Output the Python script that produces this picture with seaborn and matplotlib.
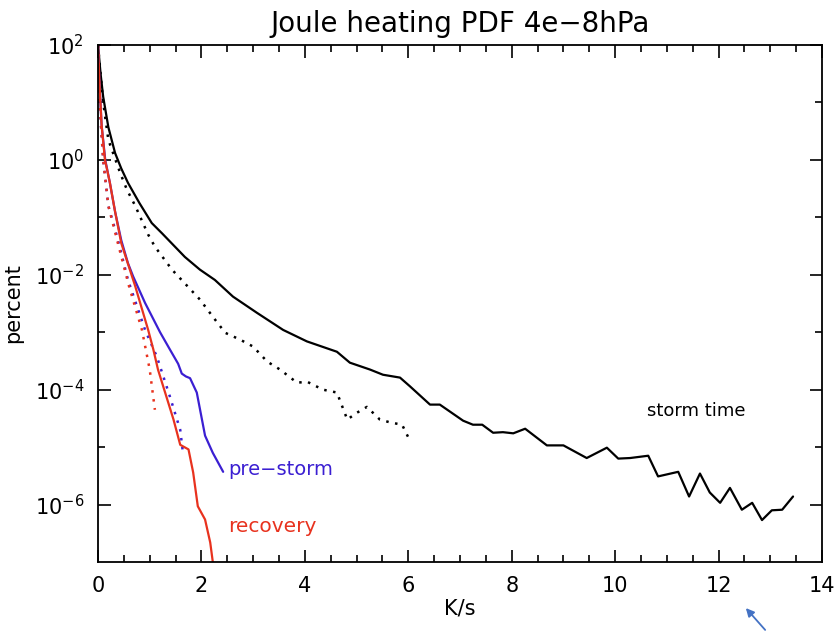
import numpy as np
import pandas as pd
import matplotlib
matplotlib.use("Agg")
import matplotlib.pyplot as plt
import seaborn as sns
from matplotlib.ticker import FixedLocator, NullFormatter

# values, y in percent (given as log10 exponents)
storm_x = [0, 0.05, 0.1, 0.2, 0.33, 0.45, 0.58, 0.8, 1.04, 1.24, 1.68, 1.97, 2.26,
           2.61, 3.07, 3.58, 4.04, 4.62, 4.87, 5.26, 5.51, 5.84, 6.03, 6.42, 6.61,
           7.06, 7.25, 7.43, 7.64, 7.83, 8.03, 8.26, 8.68, 9.0, 9.45, 9.84, 10.06,
           10.29, 10.64, 10.83, 11.22, 11.43, 11.64, 11.83, 12.03, 12.22, 12.45,
           12.65, 12.84, 13.03, 13.23, 13.44]
storm_lg = [2.0, 1.5, 1.1, 0.57, 0.12, -0.15, -0.4, -0.75, -1.1, -1.28, -1.69, -1.91,
            -2.09, -2.38, -2.66, -2.96, -3.16, -3.34, -3.53, -3.65, -3.74, -3.79,
            -3.94, -4.26, -4.26, -4.54, -4.61, -4.61, -4.75, -4.74, -4.76, -4.68,
            -4.97, -4.97, -5.19, -5.01, -5.2, -5.19, -5.15, -5.51, -5.43, -5.86,
            -5.46, -5.79, -5.97, -5.71, -6.09, -5.97, -6.27, -6.1, -6.09, -5.86]

storm_dot_x = [0, 0.1, 0.2, 0.43, 0.56, 0.72, 0.97, 1.1, 1.43, 1.97, 2.22, 2.46, 2.75,
               3.0, 3.27, 3.52, 3.85, 4.04, 4.35, 4.62, 4.82, 5.01, 5.2, 5.45, 5.65,
               5.88, 6.0]
storm_dot_lg = [2.0, 1.0, 0.35, -0.23, -0.52, -0.8, -1.3, -1.51, -1.91, -2.43, -2.73,
                -3.01, -3.13, -3.25, -3.51, -3.65, -3.88, -3.86, -4.0, -4.05, -4.52,
                -4.4, -4.3, -4.52, -4.57, -4.61, -4.83]

pre_x = [0, 0.03, 0.07, 0.14, 0.23, 0.33, 0.45, 0.58, 0.68, 0.91, 1.2, 1.39, 1.55,
         1.62, 1.7, 1.78, 1.91, 2.07, 2.22, 2.42]
pre_lg = [2.0, 1.3, 0.6, 0.0, -0.4, -0.9, -1.4, -1.8, -2.03, -2.49, -3.0, -3.3, -3.55,
          -3.72, -3.77, -3.8, -4.05, -4.8, -5.1, -5.43]

pre_dot_x = [0, 0.03, 0.1, 0.2, 0.37, 0.58, 0.91, 1.14, 1.39, 1.59, 1.64]
pre_dot_lg = [2.0, 1.0, 0.0, -0.8, -1.34, -2.09, -2.96, -3.43, -4.12, -4.7, -5.08]

rec_x = [0, 0.03, 0.07, 0.135, 0.23, 0.33, 0.45, 0.72, 0.97, 1.07, 1.16, 1.26, 1.46,
         1.59, 1.69, 1.75, 1.84, 1.93, 2.07, 2.17, 2.22]
rec_lg = [2.0, 1.3, 0.6, 0.0, -0.4, -0.9, -1.45, -2.2, -2.96, -3.3, -3.65, -3.94,
          -4.52, -4.96, -5.01, -5.04, -5.44, -6.03, -6.26, -6.66, -7.0]

rec_dot_x = [0, 0.03, 0.1, 0.2, 0.37, 0.6, 0.85, 1.0, 1.1]
rec_dot_lg = [2.0, 1.0, 0.0, -0.8, -1.4, -2.2, -2.96, -3.65, -4.35]

ytick_vals = [1e2, 1e0, 1e-2, 1e-4, 1e-6]
ytick_labels = [r'$10^{2}$', r'$10^{0}$', r'$10^{-2}$', r'$10^{-4}$', r'$10^{-6}$']
yminor_vals = [1e1, 1e-1, 1e-3, 1e-5]
xtick_vals = [0, 2, 4, 6, 8, 10, 12, 14]

BLUE = '#3b1fd2'
RED = '#e8321e'

sns.set_style("ticks")
plt.rcParams['font.family'] = ['DejaVu Sans']
plt.rcParams['text.color'] = 'black'
plt.rcParams['axes.labelcolor'] = 'black'

fig = plt.figure(figsize=(8.39, 6.32), dpi=100)
ax = fig.add_axes([98/839, 1-562/632, (822-98)/839, (562-45)/632])

series = [
    (storm_x, storm_lg, 'black', '-'),
    (storm_dot_x, storm_dot_lg, 'black', ':'),
    (pre_x, pre_lg, BLUE, '-'),
    (pre_dot_x, pre_dot_lg, BLUE, ':'),
    (rec_x, rec_lg, RED, '-'),
    (rec_dot_x, rec_dot_lg, RED, ':'),
]
for xs, lg, col, ls in series:
    d = pd.DataFrame({'x': xs, 'y': 10.0 ** np.array(lg)})
    line_kw = dict(lw=1.6) if ls == '-' else dict(lw=1.8, dashes=(1, 2.6))
    sns.lineplot(data=d, x='x', y='y', ax=ax, color=col, estimator=None,
                 sort=False, **line_kw)

ax.set_yscale('log')
ax.set_xlim(0, 14)
ax.set_ylim(1e-7, 1e2)

ax.set_xticks(xtick_vals)
ax.set_xticklabels([str(v) for v in xtick_vals])
ax.xaxis.set_minor_locator(FixedLocator(np.arange(0, 14.01, 0.5)))
ax.yaxis.set_major_locator(FixedLocator(ytick_vals))
ax.set_yticklabels(ytick_labels)
ax.yaxis.set_minor_locator(FixedLocator(yminor_vals))
ax.yaxis.set_minor_formatter(NullFormatter())

ax.tick_params(which='both', direction='in', top=True, right=True, width=1.2,
               colors='black', labelsize=15)
ax.tick_params(which='major', length=9, pad=10)
ax.tick_params(which='minor', length=5)
for s in ax.spines.values():
    s.set_linewidth(1.3)
    s.set_color('black')

ax.set_xlabel('K/s', fontsize=15, labelpad=2)
ax.set_ylabel('percent', fontsize=15, labelpad=8)
ax.set_title('Joule heating PDF 4e\u22128hPa', fontsize=20, pad=9)

ax.text(10.62, 10 ** -4.38, 'storm time', fontsize=13, color='black', va='center')
ax.text(2.52, 10 ** -5.39, 'pre\u2212storm', fontsize=14, color=BLUE, va='center')
ax.text(2.52, 10 ** -6.38, 'recovery', fontsize=14.5, color=RED, va='center')

ax.annotate('', xy=(744/839, 1-606/632), xytext=(767/839, 1-632/632),
            xycoords='figure fraction', textcoords='figure fraction',
            arrowprops=dict(arrowstyle='-|>', color='#4472c4', lw=1.3,
                            mutation_scale=12),
            annotation_clip=False)

fig.savefig('out.png', dpi=100)
